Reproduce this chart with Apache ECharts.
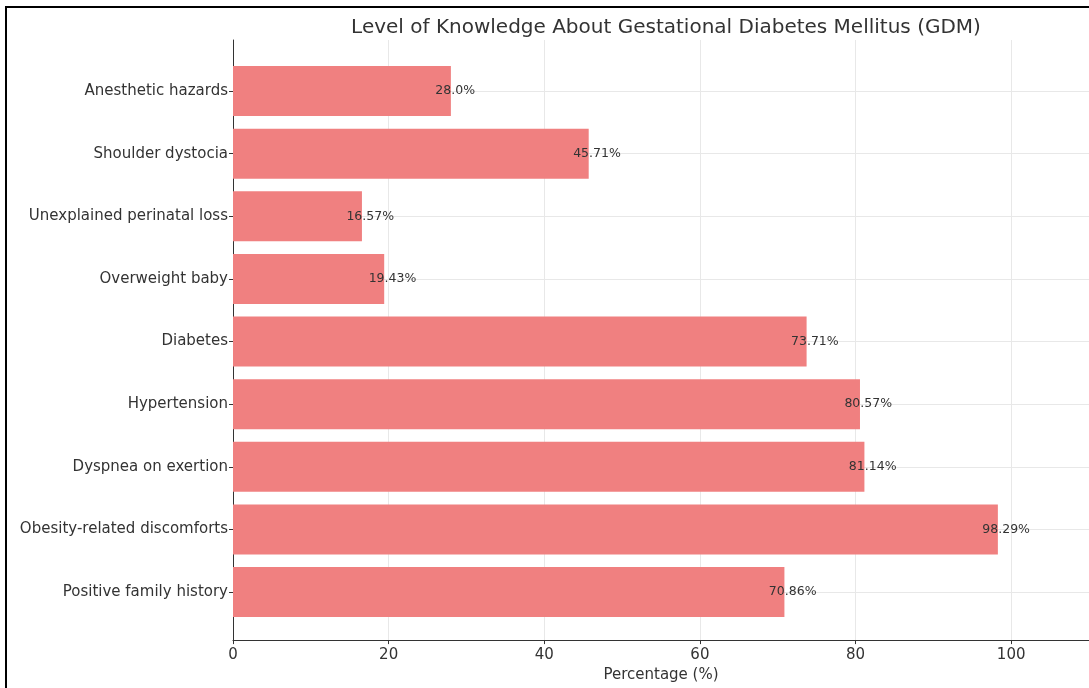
<!DOCTYPE html>
<html>
<head>
<meta charset="utf-8">
<script src="https://cdn.jsdelivr.net/npm/echarts@6/dist/echarts.min.js"></script>
<style>
html,body{margin:0;padding:0;background:#fff;}
#chart{width:1089px;height:688px;}
</style>
</head>
<body>
<div id="chart"></div>
<script>
const titleText = 'Level of Knowledge About Gestational Diabetes Mellitus (GDM)';
const xAxisName = 'Percentage (%)';
// bottom to top
const categories = [
  'Positive family history',
  'Obesity-related discomforts',
  'Dyspnea on exertion',
  'Hypertension',
  'Diabetes',
  'Overweight baby',
  'Unexplained perinatal loss',
  'Shoulder dystocia',
  'Anesthetic hazards'
];
const values = [70.86, 98.29, 81.14, 80.57, 73.71, 19.43, 16.57, 45.71, 28.0];
const xMin = 0, xMax = 110, xInterval = 20;

const font = 'DejaVu Sans';
const chart = echarts.init(document.getElementById('chart'), null, {renderer: 'canvas'});
const pxPerUnit = (1089 - 233) / (xMax - xMin);

chart.setOption({
  animation: false,
  backgroundColor: '#ffffff',
  title: {
    text: titleText,
    left: 661, top: 13, textAlign: 'center',
    textStyle: {fontFamily: font, fontSize: 20, fontWeight: 'normal', color: '#333'}
  },
  graphic: [{
    type: 'rect', z: 100,
    shape: {x: 6, y: 7, width: 1200, height: 800},
    style: {fill: 'none', stroke: '#000', lineWidth: 2}
  }],
  grid: [
    {left: 233, right: 0, top: 40, bottom: 43, containLabel: false},
    {left: 233, right: 0, top: 91, bottom: 96, containLabel: false}
  ],
  xAxis: [
    {
      gridIndex: 0, type: 'value', min: xMin, max: xMax, interval: xInterval,
      name: xAxisName, nameLocation: 'middle', nameGap: 27,
      nameTextStyle: {fontFamily: font, fontSize: 15, color: '#333'},
      axisLine: {show: true, lineStyle: {color: '#333', width: 1}},
      axisTick: {show: true, length: 4, lineStyle: {color: '#333'}},
      axisLabel: {fontFamily: font, fontSize: 15, color: '#333', margin: 8, showMaxLabel: false},
      splitLine: {show: true, showMaxLine: false, lineStyle: {color: '#e8e8e8', width: 1}}
    },
    {
      gridIndex: 1, type: 'value', min: xMin, max: xMax, show: false
    }
  ],
  yAxis: [
    {
      gridIndex: 0, type: 'value', min: 0, max: 1,
      axisLine: {show: true, lineStyle: {color: '#333', width: 1}},
      axisTick: {show: false}, axisLabel: {show: false}, splitLine: {show: false}
    },
    {
      gridIndex: 1, type: 'category', data: categories, boundaryGap: false,
      axisLine: {show: false},
      axisTick: {show: true, length: 4, lineStyle: {color: '#333'}},
      axisLabel: {fontFamily: font, fontSize: 15, color: '#333', margin: 5},
      splitLine: {show: true, lineStyle: {color: '#e8e8e8', width: 1}}
    }
  ],
  series: [{
    type: 'bar',
    xAxisIndex: 1, yAxisIndex: 1,
    data: values,
    barWidth: 50,
    itemStyle: {color: '#F08080'},
    label: {
      show: true, position: 'right', distance: 0,
      offset: [-2 * pxPerUnit, 0],
      fontFamily: font, fontSize: 12.5, color: '#333',
      formatter: p => (Number.isInteger(p.value) ? p.value.toFixed(1) : String(p.value)) + '%'
    }
  }]
});
</script>
</body>
</html>
